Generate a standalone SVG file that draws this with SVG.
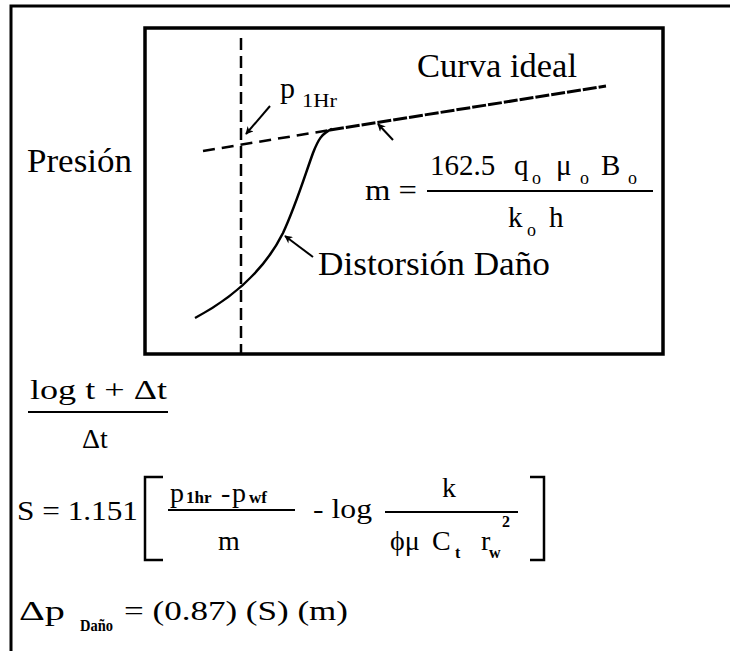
<svg xmlns="http://www.w3.org/2000/svg" width="730" height="651" viewBox="0 0 730 651" font-family="'Liberation Serif','DejaVu Serif',serif">
<defs>
<style>
.t{font-family:'Liberation Serif','DejaVu Serif',serif;fill:#000}
.ln{stroke:#000;fill:none}
</style>
<marker id="ah" viewBox="0 0 10 10" refX="9" refY="5" markerWidth="10" markerHeight="8" orient="auto" markerUnits="userSpaceOnUse">
<path d="M0,0 L10,5 L0,10 L3,5 z" fill="#000"/>
</marker>
</defs>
<rect x="0" y="0" width="730" height="651" fill="#fff"/>
<g id="frame">
<path class="ln" d="M11,651 V6 H730" stroke-width="3"/>
<rect x="145" y="28" width="518" height="326" class="ln" stroke-width="3.5"/>
</g>
<g id="curves">
<line class="ln" x1="241" y1="38" x2="241" y2="354" stroke-width="2.5" stroke-dasharray="12,6"/>
<line class="ln" x1="203" y1="151" x2="330" y2="130" stroke-width="2.5" stroke-dasharray="12,7"/>
<line class="ln" x1="330" y1="130" x2="606" y2="86" stroke-width="3" stroke-dasharray="14,2"/>
<path class="ln" d="M195,318 C225,302 262,275 283,233 C296,205 305,175 313,153 C318,140 322,133 332,129" stroke-width="2.5"/>
</g>
<g id="connectors">
<line class="ln" x1="270" y1="106" x2="246" y2="134" stroke-width="2" marker-end="url(#ah)"/>
<line class="ln" x1="393" y1="140" x2="378" y2="124" stroke-width="2" marker-end="url(#ah)"/>
<line class="ln" x1="313" y1="257" x2="285" y2="236" stroke-width="2" marker-end="url(#ah)"/>
</g>
<g id="labels">
<text class="t" x="27" y="172" font-size="33" textLength="105" lengthAdjust="spacingAndGlyphs">Presión</text>
<text class="t" x="417" y="77" font-size="34" textLength="160" lengthAdjust="spacingAndGlyphs">Curva ideal</text>
<text class="t" x="280" y="98" font-size="30">p</text>
<text class="t" x="302" y="107" font-size="18" textLength="35" lengthAdjust="spacingAndGlyphs">1Hr</text>
<text class="t" x="318" y="275" font-size="33" textLength="232" lengthAdjust="spacingAndGlyphs">Distorsión  Daño</text>
</g>
<g id="formula-m">
<text class="t" x="365" y="200" font-size="30" textLength="52" lengthAdjust="spacingAndGlyphs">m =</text>
<line class="ln" x1="427" y1="191" x2="653" y2="191" stroke-width="2"/>
<text class="t" y="175" font-size="29"><tspan x="430">162.5</tspan><tspan x="514">q</tspan><tspan x="556">μ</tspan><tspan x="601">B</tspan></text>
<text class="t" y="184" font-size="18"><tspan x="532">o</tspan><tspan x="580">o</tspan><tspan x="628">o</tspan></text>
<text class="t" y="227" font-size="29"><tspan x="508">k</tspan><tspan x="549">h</tspan></text>
<text class="t" x="527" y="236" font-size="18">o</text>
</g>
<g id="formula-log">
<text class="t" x="30" y="399" font-size="28" textLength="137" lengthAdjust="spacingAndGlyphs">log  t + Δt</text>
<line class="ln" x1="28" y1="412" x2="168" y2="412" stroke-width="2"/>
<text class="t" x="82" y="448" font-size="28">Δt</text>
</g>
<g id="formula-S">
<text class="t" x="17" y="520" font-size="28" textLength="121" lengthAdjust="spacingAndGlyphs">S = 1.151</text>
<path class="ln" d="M163,477 H145 V560 H163" stroke-width="2.5"/>
<text class="t" y="502" font-size="28"><tspan x="170">p</tspan><tspan x="221">-</tspan><tspan x="232">p</tspan></text>
<text class="t" y="503" font-size="17" font-weight="bold"><tspan x="186">1hr</tspan><tspan x="249">wf</tspan></text>
<line class="ln" x1="168" y1="510" x2="295" y2="510" stroke-width="2"/>
<text class="t" x="218" y="550" font-size="28">m</text>
<text class="t" x="313" y="518" font-size="28" textLength="59" lengthAdjust="spacingAndGlyphs">- log</text>
<line class="ln" x1="385" y1="512" x2="518" y2="512" stroke-width="2"/>
<text class="t" x="442" y="497" font-size="28">k</text>
<text class="t" y="550" font-size="28"><tspan x="390">ϕμ</tspan><tspan x="432">C</tspan><tspan x="481">r</tspan></text>
<text class="t" y="558" font-size="16" font-weight="bold"><tspan x="455">t</tspan><tspan x="489">w</tspan></text>
<text class="t" x="502" y="527" font-size="16" font-weight="bold">2</text>
<path class="ln" d="M530,477 H544 V560 H530" stroke-width="2.5"/>
</g>
<g id="formula-dp">
<text class="t" x="19" y="620" font-size="28" textLength="46" lengthAdjust="spacingAndGlyphs">Δp</text>
<text class="t" x="80" y="631" font-size="17" font-weight="bold" textLength="33" lengthAdjust="spacingAndGlyphs">Daño</text>
<text class="t" x="124" y="620" font-size="28" textLength="224" lengthAdjust="spacingAndGlyphs">= (0.87) (S) (m)</text>
</g>
</svg>
